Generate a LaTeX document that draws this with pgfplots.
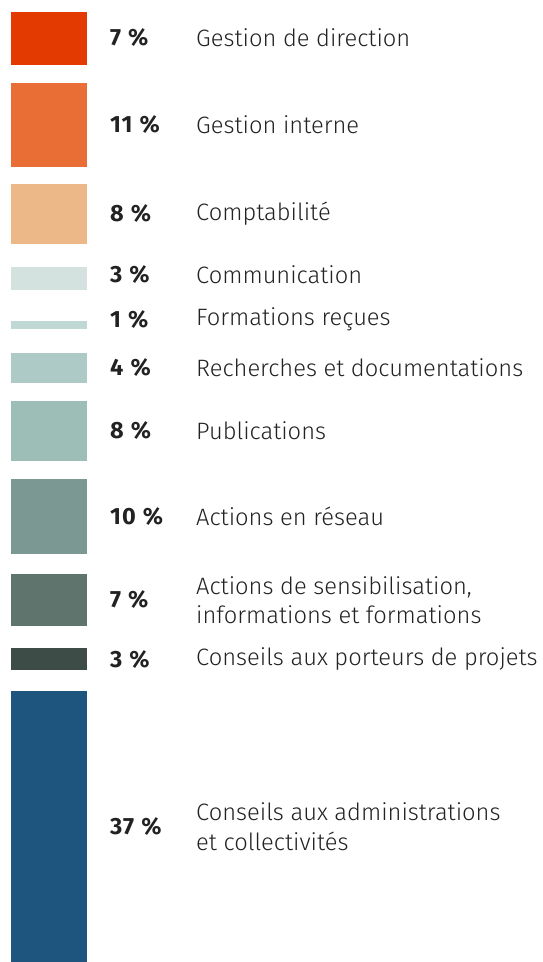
\documentclass[border=0pt]{standalone}
\usepackage{fontspec}
\setmainfont{Fira Sans}[UprightFont=* Light, BoldFont=* Bold]
\usepackage{pgfplots}
\pgfplotsset{compat=1.18}
\definecolor{c1}{HTML}{E23A00}
\definecolor{c2}{HTML}{E86E35}
\definecolor{c3}{HTML}{EDB887}
\definecolor{c4}{HTML}{D3E2DE}
\definecolor{c5}{HTML}{C0D8D4}
\definecolor{c6}{HTML}{AECAC6}
\definecolor{c7}{HTML}{9DBEB7}
\definecolor{c8}{HTML}{7C9892}
\definecolor{c9}{HTML}{5F746D}
\definecolor{c10}{HTML}{3E4C48}
\definecolor{c11}{HTML}{1D557F}
\definecolor{txt}{HTML}{222222}
\newcommand{\blk}[3]{\addplot[fill=#1, draw=none] coordinates {(11,#2) (87,#2) (87,#3) (11,#3)} --cycle;}
\newcommand{\lab}[4]{%
  \node[anchor=west, inner sep=0pt, font=\fontsize{23.5}{29.5}\selectfont\bfseries, text=txt] at (axis cs:110,{(#1+#2)/2}) {\addfontfeatures{LetterSpace=4}#3\hspace{0.3em}\%};
  \node[anchor=west, inner sep=0pt, align=left, font=\fontsize{23.7}{29.5}\selectfont, text=txt] at (axis cs:196,{(#1+#2)/2}) {#4};}
\begin{document}
\begin{tikzpicture}
\begin{axis}[
  width=543pt, height=962pt, scale only axis,
  xmin=0, xmax=543, ymin=0, ymax=962, y dir=reverse,
  hide axis, clip=false]
\path[use as bounding box] (axis cs:0,0) rectangle (axis cs:543,962);
\blk{c1}{12}{65}
\blk{c2}{83}{167}
\blk{c3}{184}{244}
\blk{c4}{267}{290}
\blk{c5}{321}{329}
\blk{c6}{353}{383}
\blk{c7}{401}{461}
\blk{c8}{479}{554}
\blk{c9}{574}{626}
\blk{c10}{648}{670}
\blk{c11}{691}{962}
\lab{10}{65}{7}{Gestion de direction}
\lab{83}{167}{11}{Gestion interne}
\lab{184}{244}{8}{Comptabilité}
\lab{259}{290}{3}{Communication}
\lab{310}{329}{1}{Formations reçues}
\lab{353}{383}{4}{Recherches et documentations}
\lab{401}{461}{8}{Publications}
\lab{479}{554}{10}{Actions en réseau}
\lab{574}{626}{7}{Actions de sensibilisation,\\informations et formations}
\lab{648}{670}{3}{Conseils aux porteurs de projets}
\lab{691}{962}{37}{Conseils aux administrations\\et collectivités}
\end{axis}
\end{tikzpicture}
\end{document}
